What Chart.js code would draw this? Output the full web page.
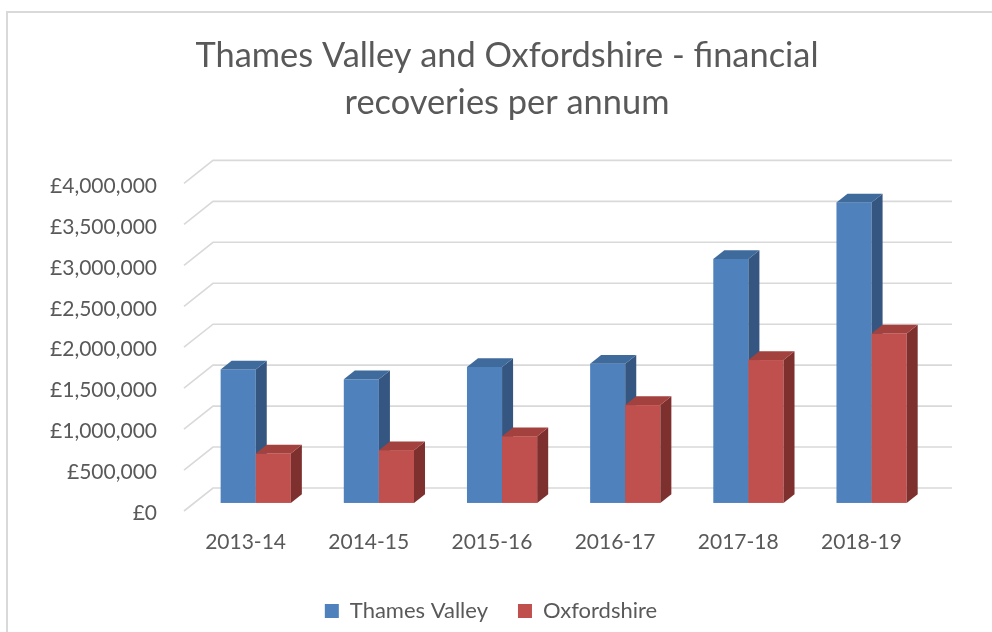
<!DOCTYPE html>
<html>
<head>
<meta charset="utf-8">
<script src="https://cdn.jsdelivr.net/npm/chart.js@4.4.1/dist/chart.umd.min.js"></script>
<style>
  html, body { margin: 0; padding: 0; background: #ffffff; }
  #wrap { position: relative; width: 992px; height: 632px; overflow: hidden; }
  #frame { position: absolute; left: 6px; top: 10.5px; width: 1100px; height: 800px;
           border: 2px solid #d9d9d9; box-sizing: border-box; }
  #c { position: absolute; left: 0; top: 0; }
</style>
</head>
<body>
<div id="wrap">
  <div id="frame"></div>
  <canvas id="c" width="992" height="632"></canvas>
</div>
<script>
// Financial recoveries per year (GBP)
const years = ['2013-14', '2014-15', '2015-16', '2016-17', '2017-18', '2018-19'];
const thamesValley = [1630000, 1510000, 1660000, 1700000, 2980000, 3670000];
const oxfordshire  = [605000, 645000, 815000, 1195000, 1745000, 2070000];
const seriesNames  = ['Thames Valley', 'Oxfordshire'];
const axisMax  = 4000000;
const axisStep = 500000;

// Oblique 3D look: floor depth and where the bar boxes sit inside it
const FLOOR_DX = 29, FLOOR_DY = -23;
const BAR_FRONT = 0.35, BAR_DEPTH = 0.38;
const faces = [
  { front: '#4F81BD', top: '#3F6A9C', side: '#345681' },
  { front: '#C0504D', top: '#A3413E', side: '#7D302E' }
];

const depthPlugin = {
  id: 'depth3d',
  afterLayout(chart) {
    // centre the title and legend over the whole plot including its depth
    const tb = chart.titleBlock;
    if (tb) { tb.left += 45.5; tb.right += 45.5; }
    const lg = chart.legend;
    if (lg) { lg.left += 29.5; lg.right += 29.5; }
  },
  beforeDatasetsDraw(chart) {
    const ctx = chart.ctx;
    const area = chart.chartArea;
    const ys = chart.scales.y;
    ctx.save();
    // side wall and back wall grid lines
    ctx.strokeStyle = '#D9D9D9';
    ctx.lineWidth = 1.6;
    ys.ticks.forEach(t => {
      const py = ys.getPixelForValue(t.value);
      ctx.beginPath();
      ctx.moveTo(area.left, py);
      ctx.lineTo(area.left + FLOOR_DX, py + FLOOR_DY);
      ctx.lineTo(area.right + FLOOR_DX, py + FLOOR_DY);
      ctx.stroke();
    });
    // bar boxes, drawn category by category so faces overlap correctly
    const ox = FLOOR_DX * BAR_FRONT, oy = FLOOR_DY * BAR_FRONT;
    const dx = FLOOR_DX * BAR_DEPTH, dy = FLOOR_DY * BAR_DEPTH;
    const metas = chart.data.datasets.map((d, i) => chart.getDatasetMeta(i));
    for (let i = 0; i < chart.data.labels.length; i++) {
      metas.forEach((m, j) => {
        const p = m.data[i].getProps(['x', 'y', 'base', 'width'], true);
        const l = p.x - p.width / 2 + ox, r = p.x + p.width / 2 + ox;
        const t = p.y + oy, b = p.base + oy;
        const f = faces[j];
        ctx.fillStyle = f.front;
        ctx.fillRect(l, t, r - l, b - t);
        ctx.fillStyle = f.side;
        ctx.beginPath();
        ctx.moveTo(r, t); ctx.lineTo(r + dx, t + dy);
        ctx.lineTo(r + dx, b + dy); ctx.lineTo(r, b);
        ctx.closePath(); ctx.fill();
        ctx.fillStyle = f.top;
        ctx.beginPath();
        ctx.moveTo(l, t); ctx.lineTo(r, t);
        ctx.lineTo(r + dx, t + dy); ctx.lineTo(l + dx, t + dy);
        ctx.closePath(); ctx.fill();
      });
    }
    ctx.restore();
    return false;
  }
};

Chart.defaults.font.family = 'Lato, "Open Sans", sans-serif';
Chart.defaults.color = '#595959';

new Chart(document.getElementById('c'), {
  type: 'bar',
  data: {
    labels: years,
    datasets: [
      { label: seriesNames[0], data: thamesValley, backgroundColor: faces[0].front, borderWidth: 0 },
      { label: seriesNames[1], data: oxfordshire,  backgroundColor: faces[1].front, borderWidth: 0 }
    ]
  },
  options: {
    responsive: false,
    animation: false,
    events: [],
    datasets: { bar: { categoryPercentage: 0.57, barPercentage: 1.0 } },
    layout: { padding: { left: 0, right: 69, top: 0, bottom: 0 } },
    plugins: {
      title: {
        display: true,
        text: ['Thames Valley and Oxfordshire - financial', 'recoveries per annum'],
        color: '#595959',
        font: { size: 34.4, weight: 'normal', lineHeight: 1.355 },
        padding: { top: 32.7, bottom: 57.5 }
      },
      legend: {
        position: 'bottom',
        labels: {
          boxWidth: 14, boxHeight: 14, padding: 30,
          color: '#595959', font: { size: 22 }
        }
      },
      tooltip: { enabled: false }
    },
    scales: {
      x: {
        grid: { display: false, drawTicks: false },
        border: { display: false },
        ticks: { color: '#595959', font: { size: 21 }, padding: 19, maxRotation: 0 },
        afterFit(scale) { scale.height = 59; }
      },
      y: {
        min: 0, max: axisMax,
        grid: { display: false, drawTicks: false },
        border: { display: false },
        ticks: {
          stepSize: axisStep,
          color: '#595959', font: { size: 21 }, padding: 27, labelOffset: 2.5,
          callback: v => '£' + Number(v).toLocaleString('en-GB')
        },
        afterFit(scale) { scale.width = 184; }
      }
    }
  },
  plugins: [depthPlugin]
});
</script>
</body>
</html>
